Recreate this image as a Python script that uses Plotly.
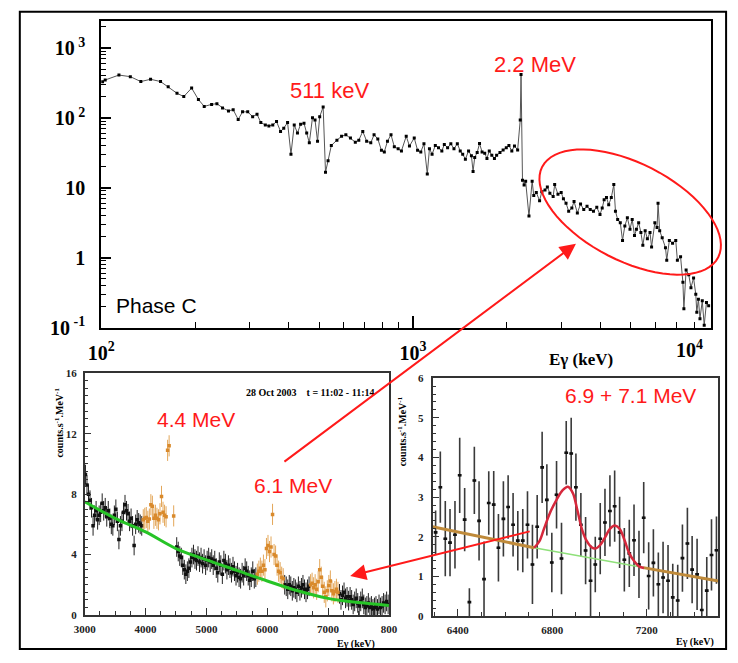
import math
import plotly.graph_objects as go

W, H = 738, 663

# ---------------- top spectrum (log-log) ----------------
top_energy_kev = [
    101, 103, 114, 124, 134, 144, 155, 164, 175, 184,
    195, 205, 214, 226, 235, 245, 256, 265, 275, 284,
    295, 306, 316, 325, 336, 345, 355, 365, 376, 385,
    396, 406, 416, 426, 436, 447, 456, 465, 476, 485,
    494, 502, 515, 524, 534, 547, 570, 590, 609, 630,
    653, 670, 690, 710, 732, 750, 771, 792, 809, 828,
    850, 871, 896, 918, 951, 974, 1009, 1034, 1059, 1084,
    1111, 1129, 1151, 1179, 1207, 1237, 1260, 1291, 1322, 1353,
    1387, 1417, 1443, 1472, 1507, 1539, 1558, 1577, 1606, 1634,
    1665, 1698, 1726, 1756, 1789, 1824, 1854, 1900, 1945, 1991,
    2030, 2074, 2115, 2165, 2207, 2220, 2244, 2271, 2297, 2354,
    2410, 2439, 2485, 2546, 2588, 2650, 2696, 2747, 2814, 2846,
    2916, 2986, 3036, 3095, 3156, 3231, 3284, 3365, 3445, 3528,
    3614, 3701, 3790, 3884, 3977, 4043, 4101, 4172, 4241, 4324,
    4404, 4458, 4531, 4620, 4697, 4778, 4868, 4963, 5045, 5131,
    5205, 5291, 5380, 5457, 5552, 5643, 5754, 5821, 5963, 6062,
    6105, 6180, 6296, 6450, 6511, 6637, 6797, 6958, 7043, 7211,
    7336, 7389, 7512, 7659, 7785, 7937, 8068, 8128, 8226, 8321,
    8464, 8586, 8730, 8875,
]
top_counts = [
    330, 349, 410, 389, 331, 357, 331, 278, 225, 202,
    267, 183, 146, 156, 160, 139, 126, 131, 95, 122,
    122, 104, 113, 85.7, 79.3, 76.8, 79.3, 88.5, 64.1, 71.3,
    85.7, 30.2, 79.3, 60.7, 81.1, 83.8, 60.7, 44.0, 100.7, 93.2,
    46.5, 104, 143.5, 16.7, 24.4, 40.3, 48.0, 54.6, 57.4, 51.6,
    45.0, 48.0, 64.1, 46.5, 44.0, 57.4, 50.0, 34.3, 32.6, 46.5,
    57.4, 38.7, 36.3, 33.7, 54.6, 39.6, 51.6, 34.5, 32.6, 42.6,
    15.8, 36.3, 30.2, 40.3, 37.4, 33.7, 41.7, 37.4, 42.6, 36.3,
    42.6, 33.7, 30.2, 25.7, 33.7, 28.7, 17.1, 27.2, 31.9, 43.0,
    32.6, 31.2, 26.3, 33.7, 29.2, 26.3, 29.2, 31.9, 34.8, 37.4,
    40.3, 33.7, 39.6, 34.8, 93.2, 419, 12.8, 11.0, 12.4, 3.93,
    12.4, 7.73, 8.59, 6.52, 8.79, 9.29, 10.3, 8.32, 7.48, 11.1,
    8.06, 8.59, 6.95, 6.03, 4.62, 5.13, 6.37, 4.37, 5.84, 4.88,
    5.42, 4.88, 4.62, 5.25, 4.15, 5.13, 6.73, 7.24, 5.73, 7.24,
    11.1, 4.62, 3.53, 3.17, 1.76, 2.85, 3.72, 2.56, 3.53, 2.07,
    2.56, 3.17, 2.30, 1.50, 2.43, 1.86, 2.30, 1.42, 3.17, 2.70,
    6.03, 2.43, 1.92, 1.39, 0.92, 1.76, 1.61, 1.76, 0.92, 1.03,
    0.444, 0.185, 0.668, 0.569, 0.371, 0.512, 0.299, 0.166, 0.255, 0.134,
    0.241, 0.108, 0.229, 0.205,
]
top_xtick_vals = [100, 1000]
top_xtick_text = ["10<sup>2</sup>", "10<sup>3</sup>"]
top_ytick_vals = [0.1, 1, 10, 100, 1000]
top_ytick_text = ["10<sup> -1</sup>", "1", "10", "10<sup> 2</sup>", "10<sup> 3</sup>"]

# ---------------- bottom-left panel ----------------
bl_black_x = [
    3012, 3037, 3062, 3087, 3112, 3137, 3162, 3187, 3212, 3237,
    3262, 3287, 3312, 3337, 3362, 3387, 3412, 3437, 3462, 3487,
    3512, 3537, 3562, 3587, 3612, 3637, 3662, 3687, 3712, 3737,
    3762, 3787, 3812, 3837, 3862, 3887, 3912, 3937,
    4512, 4537, 4562, 4587, 4612, 4637, 4662, 4687, 4712, 4737,
    4762, 4787, 4812, 4837, 4862, 4887, 4912, 4937, 4962, 4987,
    5012, 5037, 5062, 5087, 5112, 5137, 5162, 5187, 5212, 5237,
    5262, 5287, 5312, 5337, 5362, 5387, 5412, 5437, 5462, 5487,
    5512, 5537, 5562, 5587, 5612, 5637, 5662, 5687, 5712, 5737,
    5762, 5787, 5812,
    6287, 6312, 6337, 6362, 6387, 6412, 6437, 6462, 6487, 6512,
    6537, 6562, 6587, 6612, 6637, 6662, 6687,
    7187, 7212, 7237, 7262, 7287, 7312, 7337, 7362, 7387, 7412,
    7437, 7462, 7487, 7512, 7537, 7562, 7587, 7612, 7637, 7662,
    7687, 7712, 7737, 7762, 7787, 7812, 7837, 7862, 7887, 7912,
    7937, 7962, 7987,
]
bl_black_y = [
    9.3, 8.6, 8.0, 7.6, 7.1, 5.9, 6.6, 6.9, 6.3, 6.6,
    6.8, 7.4, 6.9, 7.1, 6.5, 6.9, 6.4, 6.0, 5.9, 6.6,
    7.0, 6.2, 5.0, 5.9, 6.2, 6.8, 7.3, 6.9, 6.7, 6.2,
    6.4, 5.9, 4.6, 6.0, 6.3, 6.1, 6.0, 5.9,
    4.5, 4.2, 3.9, 3.8, 3.3, 3.0, 2.7, 2.9, 3.1, 3.5,
    3.8, 4.0, 3.7, 3.6, 3.9, 3.5, 3.8, 3.4, 3.7, 3.3,
    3.6, 3.8, 3.5, 3.7, 3.3, 3.6, 3.1, 2.8, 3.5, 3.3,
    2.7, 3.6, 3.4, 3.0, 3.3, 3.1, 2.8, 3.2, 2.9, 2.6,
    2.8, 2.5, 2.4, 2.8, 2.6, 3.1, 2.9, 2.6, 2.3, 2.5,
    2.9, 2.4, 2.5,
    2.0, 1.9, 1.7, 2.0, 1.9, 1.6, 1.8, 1.7, 1.5, 1.9,
    1.6, 1.8, 2.0, 1.7, 1.5, 1.7, 1.9,
    1.4, 1.0, 1.3, 1.5, 1.1, 1.2, 0.95, 1.2, 1.0, 0.7,
    0.9, 1.1, 0.8, 0.6, 0.9, 1.1, 0.7, 0.5, 0.6, 0.8,
    0.5, 0.6, 0.4, 0.5, 0.6, 0.4, 0.7, 0.5, 0.6, 0.8,
    0.7, 0.9, 0.7,
]
bl_orange_x = [
    3962, 3987, 4012, 4037, 4062, 4087, 4112, 4137, 4162, 4187,
    4212, 4237, 4262, 4287, 4312, 4337, 4362, 4387, 4462,
    5837, 5862, 5887, 5912, 5937, 5962, 5987, 6012, 6037, 6062,
    6087, 6112, 6137, 6162, 6187, 6212, 6237, 6262,
    6712, 6737, 6762, 6787, 6812, 6837, 6862, 6887, 6912, 6937,
    6962, 6987, 7012, 7037, 7062, 7087, 7112, 7137, 7162,
]
bl_orange_y = [
    6.3, 6.4, 6.45, 6.2, 6.35, 7.3, 7.2, 6.4, 6.6, 6.4,
    6.3, 6.7, 7.85, 6.8, 6.6, 6.5, 10.9, 11.2, 6.56,
    2.7, 2.9, 3.1, 2.9, 3.3, 3.0, 4.4, 4.6, 4.2, 4.5,
    6.66, 4.0, 3.9, 3.3, 2.9, 2.8, 2.5, 2.4,
    2.0, 2.1, 1.8, 2.0, 1.7, 2.2, 3.0, 2.5, 1.9, 1.5,
    1.2, 1.6, 1.95, 2.25, 1.6, 1.4, 1.55, 1.7, 1.5,
]
bl_fit_x = [3000, 3500, 4000, 4500, 5000, 5500, 6000, 6500, 7000, 7500, 8000]
bl_fit_y = [7.5, 6.4, 5.5, 4.4, 3.65, 2.95, 2.25, 1.6, 1.1, 0.82, 0.63]
bl_xtick_vals = [3000, 4000, 5000, 6000, 7000, 8000]
bl_xtick_text = ["3000", "4000", "5000", "6000", "7000", "800"]
bl_ytick_vals = [0, 4, 8, 12, 16]

# ---------------- bottom-right panel ----------------
br_x = [
    6306, 6326, 6347, 6367, 6388, 6408, 6429, 6449, 6470, 6490,
    6511, 6531, 6552, 6572, 6593, 6613, 6634, 6654, 6675, 6695,
    6716, 6736, 6757, 6777, 6798, 6818, 6839, 6859, 6880, 6900,
    6921, 6941, 6962, 6982, 7003, 7023, 7044, 7064, 7085, 7105,
    7126, 7146, 7167, 7187, 7208, 7228, 7249, 7269, 7290, 7310,
    7331, 7351, 7372, 7392, 7413, 7433, 7454, 7474, 7495,
]
br_y = [
    2.11, 3.25, 1.95, 1.85, 2.05, 3.55, 2.43, 0.35, 3.42, 2.4,
    0.93, 2.85, 2.81, 1.72, 2.45, 2.75, 2.3, 1.9, 1.9, 2.3,
    1.3, 2.25, 3.75, 2.93, 1.35, 3.06, 1.45, 4.12, 4.1, 3.25,
    2.3, 1.65, 0.89, 1.30, 1.95, 2.36, 2.65, 2.77, 2.11, 1.42,
    1.58, 1.91, 1.30, 2.48, 1.01, 1.34, 0.80, 0.97, 0.89, 0.47,
    0.39, 1.46, 1.83, 1.17, 1.05, 0.15, 0.64, 1.54, 1.66,
]
br_err = [
    0.55, 0.9, 0.95, 0.85, 0.85, 0.95, 0.8, 0.35, 0.85, 1.0,
    0.95, 0.8, 0.85, 0.85, 0.95, 0.8, 0.8, 0.75, 0.8, 0.85,
    1.0, 0.8, 0.9, 0.9, 0.75, 0.85, 0.9, 0.8, 0.9, 0.85,
    0.8, 0.85, 0.9, 0.7, 0.9, 0.85, 0.9, 0.9, 0.9, 0.8,
    0.85, 0.9, 0.85, 0.9, 0.85, 0.85, 0.8, 0.9, 0.9, 0.85,
    0.9, 0.85, 0.9, 0.85, 0.9, 0.8, 0.85, 0.9, 0.85,
]
br_bg_left_x = [6293, 6723]
br_bg_left_y = [2.25, 1.72]
br_bg_mid_x = [6723, 7185]
br_bg_mid_y = [1.72, 1.22]
br_bg_right_x = [7185, 7503]
br_bg_right_y = [1.22, 0.88]
br_fit_x = [6723, 6745, 6765, 6790, 6818, 6845, 6866, 6887, 6905, 6925,
            6945, 6965, 6983, 7003, 7024, 7044, 7065, 7085, 7106, 7126,
            7147, 7167, 7188]
br_fit_y = [1.72, 1.88, 2.2, 2.6, 2.93, 3.18, 3.26, 3.1, 2.7, 2.2,
            1.9, 1.74, 1.70, 1.79, 1.99, 2.2, 2.28, 2.2, 1.91, 1.58,
            1.38, 1.25, 1.21]
br_xtick_vals = [6400, 6800, 7200]


def pxx(x):
    return x / W


def pxy(y):
    return 1 - y / H


RED = "#ff1a1a"
SERIF = "Liberation Serif"
big_tick = dict(family=SERIF, size=20, color="black", weight="bold")
small_tick = dict(family=SERIF, size=11, color="#222", weight="bold")

fig = go.Figure()

fig.add_trace(go.Scatter(
    x=top_energy_kev, y=top_counts, mode="lines+markers",
    line=dict(color="#555", width=1),
    marker=dict(symbol="square", size=3, color="black"),
    xaxis="x", yaxis="y", showlegend=False,
))

fig.add_trace(go.Scatter(
    x=bl_black_x, y=bl_black_y, mode="markers",
    marker=dict(symbol="square", size=3.5, color="#111"),
    error_y=dict(type="constant", value=0.65, color="#222", thickness=1, width=0),
    error_x=dict(type="constant", value=12, color="#222", thickness=1, width=0),
    xaxis="x2", yaxis="y2", showlegend=False,
))
fig.add_trace(go.Scatter(
    x=bl_orange_x, y=bl_orange_y, mode="markers",
    marker=dict(symbol="square", size=3.5, color="#d98a2c"),
    error_y=dict(type="constant", value=0.7, color="rgba(222,150,60,0.85)", thickness=1, width=0),
    error_x=dict(type="constant", value=12, color="rgba(222,150,60,0.85)", thickness=1, width=0),
    xaxis="x2", yaxis="y2", showlegend=False,
))
fig.add_trace(go.Scatter(
    x=bl_fit_x, y=bl_fit_y, mode="lines",
    line=dict(color="#27c427", width=3, shape="spline"),
    xaxis="x2", yaxis="y2", showlegend=False,
))

fig.add_trace(go.Scatter(
    x=br_x, y=br_y, mode="markers",
    marker=dict(symbol="square", size=2, color="#111"),
    error_y=dict(type="data", array=br_err, color="#3a3a3a", thickness=1.6, width=0),
    error_x=dict(type="constant", value=8, color="#111", thickness=2.6, width=0),
    xaxis="x3", yaxis="y3", showlegend=False,
))
fig.add_trace(go.Scatter(
    x=br_bg_mid_x, y=br_bg_mid_y, mode="lines",
    line=dict(color="#8fe07a", width=1.5),
    xaxis="x3", yaxis="y3", showlegend=False,
))
for bx, by in ((br_bg_left_x, br_bg_left_y), (br_bg_right_x, br_bg_right_y)):
    fig.add_trace(go.Scatter(
        x=bx, y=by, mode="lines",
        line=dict(color="#bf8a3a", width=3),
        xaxis="x3", yaxis="y3", showlegend=False,
    ))
fig.add_trace(go.Scatter(
    x=br_fit_x, y=br_fit_y, mode="lines",
    line=dict(color="#d6283c", width=2.5, shape="spline"),
    xaxis="x3", yaxis="y3", showlegend=False,
))

log_minor_x = [m * 10 ** k for k in (2, 3) for m in range(2, 10)]
log_minor_y = [m * 10 ** k for k in (-1, 0, 1, 2, 3) for m in range(2, 10)]

common_frame = dict(showgrid=False, zeroline=False, showline=True, mirror=True)

fig.update_layout(
    width=W, height=H, autosize=False,
    margin=dict(l=0, r=0, t=0, b=0),
    paper_bgcolor="white", plot_bgcolor="white",
    xaxis=dict(
        **common_frame, type="log", range=[2, math.log10(9000)],
        domain=[pxx(90), pxx(719)], anchor="y",
        linecolor="black", linewidth=2,
        ticks="inside", ticklen=12, tickwidth=1.5, tickcolor="black",
        tickvals=top_xtick_vals, ticktext=top_xtick_text, tickfont=big_tick,
        ticklabelstandoff=6,
        minor=dict(tickvals=log_minor_x, ticks="inside", ticklen=6, tickwidth=1.2, tickcolor="black"),
    ),
    yaxis=dict(
        **common_frame, type="log", range=[-1, 3.392],
        domain=[pxy(330), pxy(15)], anchor="x",
        linecolor="black", linewidth=2,
        ticks="inside", ticklen=10, tickwidth=1.5, tickcolor="black",
        tickvals=top_ytick_vals, ticktext=top_ytick_text, tickfont=big_tick,
        ticklabelstandoff=10,
        minor=dict(tickvals=log_minor_y, ticks="inside", ticklen=5, tickwidth=1.2, tickcolor="black"),
    ),
    xaxis2=dict(
        **common_frame, range=[3000, 8000],
        domain=[pxx(73), pxx(387)], anchor="y2",
        linecolor="#333", linewidth=1.5,
        ticks="inside", ticklen=7, tickwidth=1, tickcolor="#333",
        tickvals=bl_xtick_vals, ticktext=bl_xtick_text, tickfont=small_tick,
        ticklabelstandoff=3,
        minor=dict(dtick=250, ticks="inside", ticklen=4, tickwidth=1, tickcolor="#333"),
    ),
    yaxis2=dict(
        **common_frame, range=[0, 16],
        domain=[pxy(625), pxy(377)], anchor="x2",
        linecolor="#333", linewidth=1.5,
        ticks="inside", ticklen=7, tickwidth=1, tickcolor="#333",
        tickvals=bl_ytick_vals, tickfont=small_tick,
        ticklabelstandoff=4,
        minor=dict(dtick=0.5, ticks="inside", ticklen=4, tickwidth=1, tickcolor="#333"),
    ),
    xaxis3=dict(
        **common_frame, range=[6293, 7503],
        domain=[pxx(432), pxx(727)], anchor="y3",
        linecolor="#333", linewidth=1.5,
        ticks="inside", ticklen=7, tickwidth=1, tickcolor="#333",
        tickvals=br_xtick_vals, tickfont=small_tick,
        ticklabelstandoff=3,
        minor=dict(dtick=100, ticks="inside", ticklen=4, tickwidth=1, tickcolor="#333"),
    ),
    yaxis3=dict(
        **common_frame, range=[0, 6],
        domain=[pxy(626), pxy(382)], anchor="x3",
        linecolor="#333", linewidth=1.5,
        ticks="inside", ticklen=7, tickwidth=1, tickcolor="#333",
        dtick=1, tickfont=small_tick,
        ticklabelstandoff=5,
        minor=dict(dtick=0.2, ticks="inside", ticklen=4, tickwidth=1, tickcolor="#333"),
    ),
)


def txt(x, y, text, size, color="black", family="Arial", weight="normal", angle=0):
    return dict(
        x=pxx(x), y=pxy(y), xref="paper", yref="paper", text=text,
        showarrow=False, xanchor="center", yanchor="middle", textangle=angle,
        font=dict(family=family, size=size, color=color, weight=weight),
    )


annotations = [
    txt(697, 352, "10<sup>4</sup>", 20, family=SERIF, weight="bold"),
    txt(585, 363, "Eγ (keV)", 17, family=SERIF, weight="bold"),
    txt(147, 307, "Phase C", 21),
    txt(326, 87, "511 keV", 22, color=RED),
    txt(538, 60, "2.2 MeV", 22, color=RED),
    txt(188, 424, "4.4 MeV", 21, color=RED),
    txt(288, 492, "6.1 MeV", 21, color=RED),
    txt(636, 400, "6.9 + 7.1 MeV", 21, color=RED),
    txt(306, 397, "28 Oct 2003    t = 11:02 - 11:14", 10, family=SERIF, weight="bold"),
    txt(46, 428, "counts.s<sup>-1</sup>.MeV<sup>-1</sup>", 10, family=SERIF, weight="bold", angle=-90),
    txt(400, 437, "counts.s<sup>-1</sup>.MeV<sup>-1</sup>", 10, family=SERIF, weight="bold", angle=-90),
    txt(353, 655, "Eγ (keV)", 10, family=SERIF, weight="bold"),
    txt(703, 653, "Eγ (keV)", 10, family=SERIF, weight="bold"),
]
# red arrows (head position, tail offset in pixels)
for hx, hy, tx, ty in ((580, 244, 287, 463), (347, 585, 528, 540)):
    annotations.append(dict(
        x=pxx(hx), y=pxy(hy), xref="paper", yref="paper",
        ax=tx - hx, ay=ty - hy, axref="pixel", ayref="pixel",
        showarrow=True, arrowhead=2, arrowsize=1.6, arrowwidth=2, arrowcolor=RED, text="",
    ))
fig.update_layout(annotations=annotations)

# rotated ellipse outline (decoration, pixel geometry)
cx, cy, a, b, th = 636, 211.5, 102, 50, math.radians(27)
pts = []
for i in range(73):
    t = 2 * math.pi * i / 72
    ex = cx + a * math.cos(t) * math.cos(th) - b * math.sin(t) * math.sin(th)
    ey = cy + a * math.cos(t) * math.sin(th) + b * math.sin(t) * math.cos(th)
    pts.append((pxx(ex), pxy(ey)))
path = "M " + " L ".join(f"{x:.5f},{y:.5f}" for x, y in pts) + " Z"

fig.update_layout(shapes=[
    dict(type="rect", xref="paper", yref="paper",
         x0=pxx(6), x1=pxx(735), y0=pxy(660), y1=pxy(6),
         line=dict(color="black", width=2), fillcolor="rgba(0,0,0,0)"),
    dict(type="path", xref="paper", yref="paper", path=path,
         line=dict(color=RED, width=2), fillcolor="rgba(0,0,0,0)"),
])

fig.write_html(
    "out.html",
    config={"displayModeBar": False},
    post_script="document.body.style.margin='0px';",
)
